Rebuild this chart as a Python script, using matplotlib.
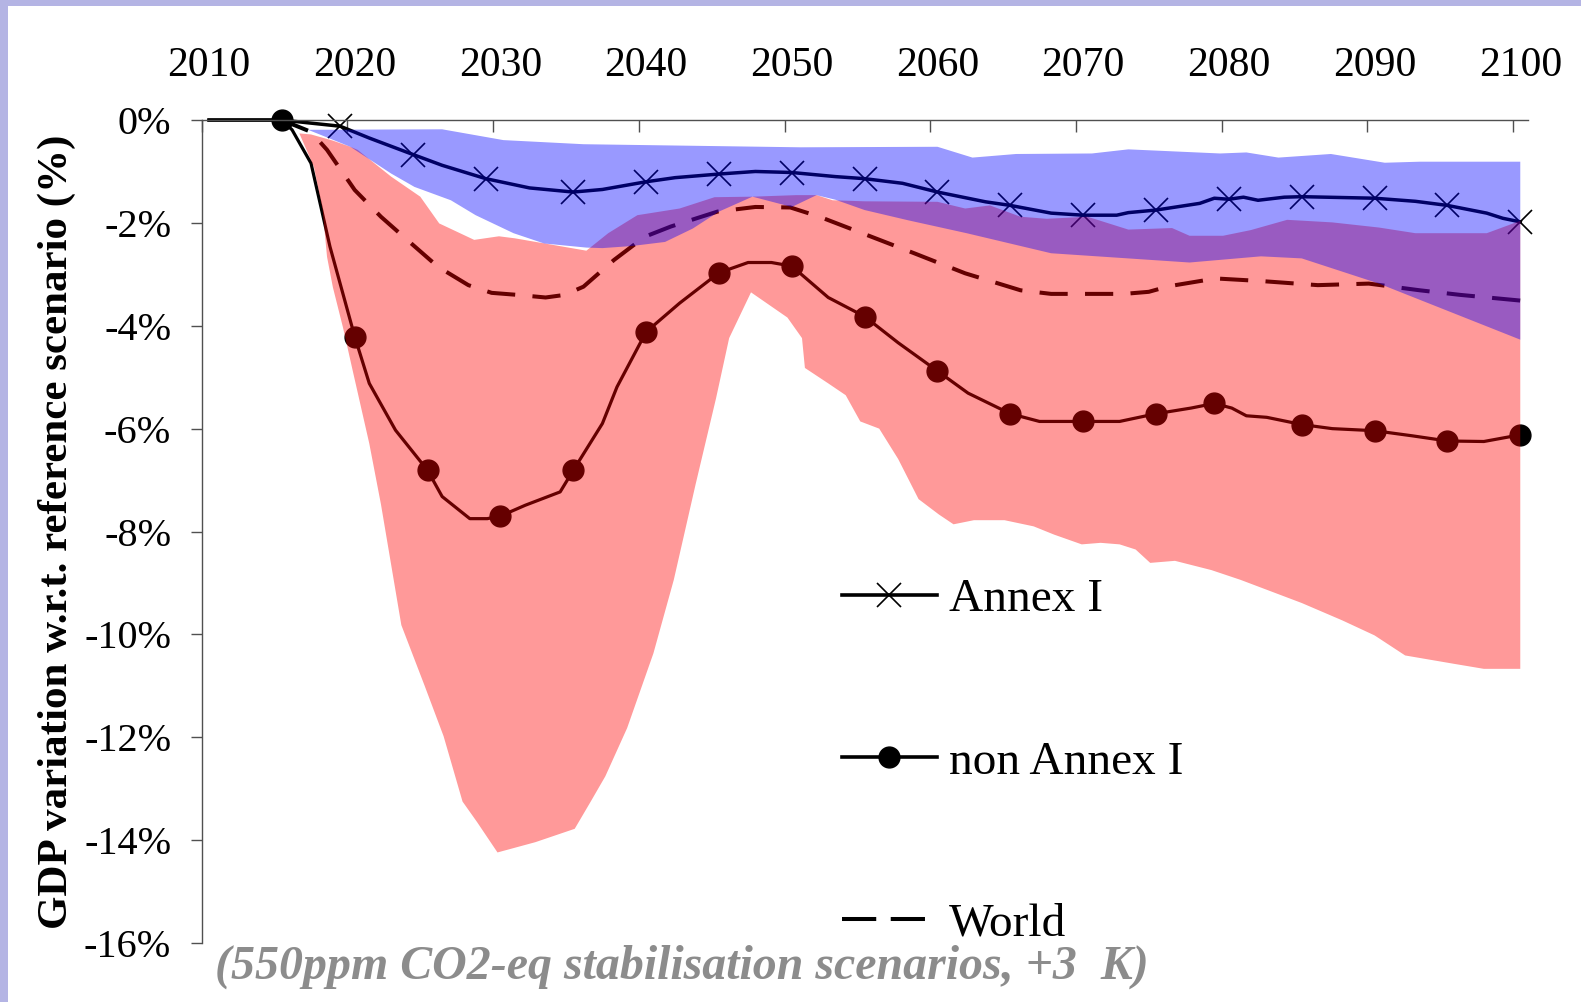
import matplotlib
matplotlib.use("Agg")
import matplotlib.pyplot as plt
from matplotlib.lines import Line2D
from matplotlib.patches import Rectangle
import numpy as np

plt.rcParams['font.family'] = ['Liberation Serif', 'DejaVu Serif']

# ---- data (GDP variation w.r.t. reference scenario, %) ----
annex_years = [2010, 2015, 2019, 2021, 2024, 2026, 2029, 2032, 2035, 2037, 2040, 2042,
               2045, 2047.5, 2050, 2053, 2055, 2057.6, 2060, 2063.3, 2065, 2067.8, 2070,
               2072.3, 2073.1, 2075, 2078, 2079, 2080, 2081, 2082, 2083.8, 2085, 2090,
               2092.8, 2095, 2097.7, 2098.8, 2100]
annex_vals = [0, 0, -0.12, -0.35, -0.67, -0.88, -1.14, -1.32, -1.40, -1.35, -1.20, -1.12,
              -1.05, -1.00, -1.02, -1.10, -1.14, -1.23, -1.40, -1.59, -1.66, -1.81, -1.85,
              -1.85, -1.80, -1.75, -1.62, -1.52, -1.54, -1.50, -1.56, -1.50, -1.49, -1.52,
              -1.58, -1.66, -1.81, -1.91, -1.98]
annex_marks = [2019, 2024, 2029, 2035, 2040, 2045, 2050, 2055, 2060, 2065, 2070, 2075,
               2080, 2085, 2090, 2095, 2100]

nonannex_years = [2010, 2015, 2015.7, 2017, 2018.3, 2020, 2021, 2022.8, 2025, 2026, 2027.9,
                  2029.1, 2030, 2031.7, 2034.1, 2035, 2037, 2038, 2040, 2042.3, 2045, 2047,
                  2048.6, 2050, 2052.5, 2055, 2057.3, 2060, 2062.1, 2065, 2067, 2070, 2072.5,
                  2075, 2077.4, 2079, 2080.2, 2081.2, 2082.6, 2085, 2087.1, 2090, 2092.6,
                  2095, 2097.5, 2100]
nonannex_vals = [0, 0, -0.19, -0.84, -2.46, -4.21, -5.12, -6.03, -6.81, -7.32, -7.75,
                 -7.75, -7.70, -7.49, -7.23, -6.81, -5.90, -5.19, -4.12, -3.56, -2.97, -2.77,
                 -2.77, -2.84, -3.45, -3.82, -4.33, -4.88, -5.31, -5.71, -5.86, -5.86, -5.86,
                 -5.71, -5.60, -5.51, -5.60, -5.75, -5.78, -5.92, -6.00, -6.04, -6.14,
                 -6.24, -6.25, -6.12]
nonannex_marks = [2015, 2020, 2025, 2030, 2035, 2040, 2045, 2050, 2055, 2060, 2065, 2070,
                  2075, 2079, 2085, 2090, 2095, 2100]

world_years = [2015, 2017, 2018.1, 2020, 2021.8, 2023.6, 2025.7, 2027.8, 2029.4, 2031.2,
               2033.1, 2034.4, 2035.7, 2037.8, 2039.9, 2041.7, 2044.9, 2047.5, 2049.9,
               2051.9, 2055.2, 2058.4, 2061.9, 2065.7, 2067.8, 2072.8, 2074.5, 2075.9,
               2079.1, 2082.2, 2086.1, 2089.6, 2093.1, 2095.9, 2100]
world_vals = [0, -0.23, -0.58, -1.36, -1.88, -2.33, -2.85, -3.21, -3.36, -3.40, -3.45,
              -3.40, -3.24, -2.72, -2.27, -2.07, -1.78, -1.69, -1.70, -1.88, -2.24, -2.59,
              -2.98, -3.31, -3.38, -3.38, -3.34, -3.23, -3.08, -3.13, -3.21, -3.18, -3.31,
              -3.40, -3.51]

# Annex I range (blue band)
annex_hi_years = [2016.8, 2026, 2030.2, 2035.7, 2050.6, 2060, 2062.4, 2065.4, 2070.6, 2073.1,
                  2079.4, 2081.2, 2083.4, 2087, 2090.7, 2093.1, 2100]
annex_hi_vals = [-0.19, -0.18, -0.39, -0.47, -0.53, -0.52, -0.73, -0.66, -0.65, -0.57,
                 -0.65, -0.63, -0.73, -0.66, -0.83, -0.81, -0.81]
annex_lo_years = [2016.8, 2019.7, 2022.5, 2024.1, 2026.6, 2028.3, 2030.9, 2033, 2035.9, 2037,
                  2039, 2041.3, 2043.2, 2045, 2047.3, 2050, 2051.7, 2053, 2055, 2058, 2062,
                  2067.8, 2077.3, 2082.2, 2085, 2090.3, 2100]
annex_lo_vals = [-0.19, -0.52, -1.04, -1.30, -1.56, -1.85, -2.20, -2.40, -2.48, -2.49,
                 -2.45, -2.37, -2.11, -1.78, -1.49, -1.69, -1.46, -1.55, -1.75, -1.95, -2.20,
                 -2.59, -2.77, -2.65, -2.69, -3.18, -4.27]

# non Annex I range (red band)
nonannex_hi_years = [2016.2, 2017, 2018.5, 2019.7, 2020.2, 2022.5, 2024.5, 2025.8, 2028.2,
                     2029.9, 2031, 2035.9, 2037.4, 2039.4, 2042.3, 2044.7, 2047.3, 2050.3,
                     2051.7, 2052.8, 2055, 2060, 2061.9, 2063.6, 2065.7, 2067.5, 2070.3,
                     2073.1, 2076.1, 2077.3, 2079.6, 2081.5, 2084, 2087.1, 2090.3, 2092.8,
                     2097.7, 2100]
nonannex_hi_vals = [-0.26, -0.28, -0.40, -0.52, -0.58, -1.10, -1.49, -2.01, -2.33, -2.26,
                    -2.30, -2.54, -2.20, -1.85, -1.72, -1.50, -1.49, -1.46, -1.46, -1.56,
                    -1.58, -1.59, -1.72, -1.66, -1.88, -1.92, -1.88, -2.13, -2.10, -2.25,
                    -2.25, -2.14, -1.94, -1.99, -2.09, -2.20, -2.20, -1.96]
nonannex_lo_years = [2016.2, 2017.2, 2017.8, 2018.1, 2018.5, 2019.2, 2019.9, 2021, 2021.8,
                     2023.2, 2024.8, 2026.1, 2027.4, 2028.4, 2029.8, 2032.4, 2035.1, 2036.2,
                     2037.2, 2038.7, 2040.5, 2041.9, 2043.4, 2044.8, 2045.7, 2047.2, 2049.7,
                     2050.7, 2050.9, 2052.5, 2053.7, 2054.7, 2056, 2057.3, 2058.7, 2060.1,
                     2061.1, 2062.5, 2064.6, 2066.6, 2068, 2069.9, 2071.2, 2072.5, 2073.6,
                     2074.6, 2076.3, 2078.8, 2080.8, 2085, 2087.8, 2090, 2092.1, 2095.4,
                     2097.5, 2100]
nonannex_lo_vals = [-0.26, -0.91, -1.75, -2.66, -3.25, -4.04, -4.92, -6.29, -7.47, -9.82,
                    -11.0, -11.98, -13.25, -13.65, -14.24, -14.04, -13.78, -13.25, -12.76,
                    -11.82, -10.37, -8.94, -7.08, -5.41, -4.24, -3.35, -3.84, -4.24, -4.82,
                    -5.12, -5.35, -5.86, -6.00, -6.59, -7.37, -7.67, -7.86, -7.78, -7.78,
                    -7.90, -8.06, -8.25, -8.22, -8.25, -8.35, -8.61, -8.57, -8.75, -8.94,
                    -9.39, -9.73, -10.02, -10.41, -10.57, -10.67, -10.67]

year_labels = list(range(2010, 2101, 10))
y_ticks = list(range(-16, 1, 2))

fig = plt.figure(figsize=(15.81, 10.02), dpi=100)
ax = fig.add_axes([0.1276, 0.0589, 0.8386, 0.8213])

# slide frame (top and left edge)
frame_col = '#b4b4e4'
fig.patches.append(Rectangle((0, 1 - 6 / 1002), 1, 6 / 1002, transform=fig.transFigure,
                             color=frame_col, lw=0, zorder=0))
fig.patches.append(Rectangle((0, 0), 7.5 / 1581, 1, transform=fig.transFigure,
                             color=frame_col, lw=0, zorder=0))

# series (black lines, the coloured ranges are laid over them)
ax.plot(annex_years, annex_vals, color='black', lw=2.5, marker='x', ms=17, mew=1.2,
        markevery=[annex_years.index(y) for y in annex_marks], zorder=2, clip_on=False)
ax.plot(nonannex_years, nonannex_vals, color='black', lw=2.3, marker='o', ms=15,
        markevery=[nonannex_years.index(y) for y in nonannex_marks], zorder=2,
        clip_on=False)
ax.plot(world_years, world_vals, color='black', lw=2.9, ls=(0, (7, 4.3)), zorder=2,
        clip_on=False)

ax.fill(np.r_[nonannex_hi_years, nonannex_lo_years[::-1]],
        np.r_[nonannex_hi_vals, nonannex_lo_vals[::-1]],
        color='red', alpha=0.4, lw=0, zorder=3)
ax.fill(np.r_[annex_hi_years, annex_lo_years[::-1]],
        np.r_[annex_hi_vals, annex_lo_vals[::-1]],
        color='blue', alpha=0.4, lw=0, zorder=4)

ax.set_xlim(2009.5, 2100.5)
ax.set_ylim(-16, 0)

# x axis on top: ticks between categories, labels at the years
ax.xaxis.tick_top()
ax.set_xticks([y - 0.5 for y in year_labels])
ax.set_xticks(year_labels, minor=True)
ax.set_xticklabels(year_labels, minor=True)
ax.tick_params(axis='x', which='major', direction='in', length=8.6, width=1,
               color='#505050', labeltop=False, labelbottom=False)
ax.tick_params(axis='x', which='minor', length=0, pad=25, labelsize=30,
               labeltop=True, labelbottom=False)

ax.set_yticks(y_ticks)
ax.set_yticklabels([f'{v}%' for v in y_ticks])
ax.tick_params(axis='y', direction='out', length=8, width=1, color='#505050',
               pad=14, labelsize=29)

for side in ['right', 'bottom']:
    ax.spines[side].set_visible(False)
for side in ['left', 'top']:
    ax.spines[side].set_color('#505050')
    ax.spines[side].set_linewidth(1)

ax.set_ylabel('GDP variation w.r.t. reference scenario (%)', fontsize=31,
              fontweight='bold', labelpad=6)

handles = [Line2D([], [], color='black', lw=2.6, marker='x', ms=17, mew=1.2),
           Line2D([], [], color='black', lw=2.6, marker='o', ms=15),
           Line2D([], [], color='black', lw=2.9, ls=(0, (8.5, 3.6)))]
ax.legend(handles, ['Annex I', 'non Annex I', 'World'], loc='upper left',
          bbox_to_anchor=(0.483, 0.443), frameon=False, fontsize=34,
          handlelength=2.0, handletextpad=0.27, labelspacing=2.52, borderpad=0,
          borderaxespad=0)

fig.text(0.136, 0.035, '(550ppm CO2-eq stabilisation scenarios, +3  K)', fontsize=34.5,
         style='italic', fontweight='bold', color='#8c8c8c', ha='left', va='center')

fig.savefig('out.png', dpi=100)
